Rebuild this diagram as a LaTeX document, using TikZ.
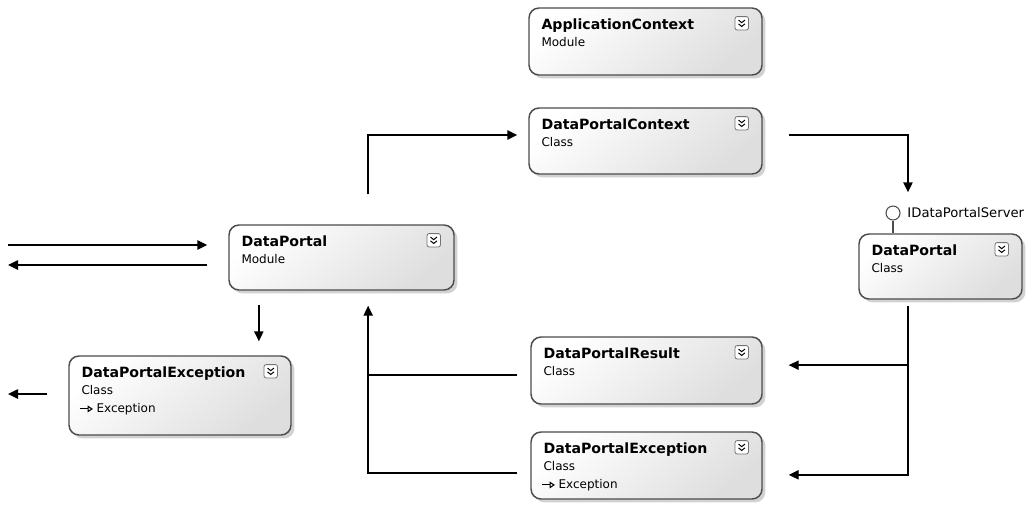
\documentclass[tikz,border=0pt]{standalone}
\usepackage{fontspec}
\setmainfont{DejaVu Sans}
\usetikzlibrary{shadows, arrows.meta, positioning}

\tikzstyle{arrow}    = [line width=1.1pt, -{Triangle[length=7.5pt,width=7pt]}]
\tikzstyle{wire}     = [line width=1.1pt]
\tikzstyle{classbox} = [draw=black!70, line width=1.1pt, rounded corners=7.5pt, top color=white, bottom color=black!13, shading angle=40, drop shadow={shadow xshift=2.5pt, shadow yshift=-2.5pt, fill=black!22, opacity=0.8}, inner sep=0pt]
\tikzstyle{boxtitle} = [anchor=base west, inner sep=0pt, font=\fontsize{10.6}{12}\selectfont\bfseries]
\tikzstyle{boxkind}  = [anchor=base west, inner sep=0pt, font=\fontsize{9}{10}\selectfont]
\tikzstyle{icon}     = [draw=black!55, fill=white, rounded corners=1.5pt, minimum size=10pt, inner sep=0pt, line width=0.6pt]

\newcommand{\expander}[1]{%
  \node[icon] (#1-icon) at ([shift={(-21,16)}]#1.north east) {};
  \draw[line width=0.75pt] ([shift={(-3.2,-3.2)}]#1-icon.center) -- ++(3.2,2.6) -- ++(3.2,-2.6);
  \draw[line width=0.75pt] ([shift={(-3.2,0.6)}]#1-icon.center) -- ++(3.2,2.6) -- ++(3.2,-2.6);
}

\begin{document}
\begin{tikzpicture}[x=0.75pt, y=-0.75pt]

    \useasboundingbox (0,0) rectangle (1032,521);

    % boxes
    \node[classbox, minimum width=174.75pt, minimum height=50.25pt] (appctx) at (645.5,41.5) {};
    \node[classbox, minimum width=174.75pt, minimum height=49.5pt]  (dpctx)  at (645.5,141) {};
    \node[classbox, minimum width=168.75pt, minimum height=48.75pt] (dpmod)  at (341.5,257.5) {};
    \node[classbox, minimum width=122.25pt, minimum height=48.75pt] (dpsrv)  at (940.5,266.5) {};
    \node[classbox, minimum width=173.25pt, minimum height=50.25pt] (dpres)  at (646.5,370.5) {};
    \node[classbox, minimum width=173.25pt, minimum height=50.25pt] (dpexc2) at (646.5,465.5) {};
    \node[classbox, minimum width=166.5pt,  minimum height=59.25pt] (dpexc1) at (180,395.5) {};

    \node[boxtitle] (appctx-t) at ([shift={(13,22)}]appctx.north west) {ApplicationContext};
    \node[boxkind]  (appctx-k) at ([shift={(13,39)}]appctx.north west) {Module};
    \node[boxtitle] (dpctx-t)  at ([shift={(13,22)}]dpctx.north west) {DataPortalContext};
    \node[boxkind]  (dpctx-k)  at ([shift={(13,39)}]dpctx.north west) {Class};
    \node[boxtitle] (dpmod-t)  at ([shift={(13,22)}]dpmod.north west) {DataPortal};
    \node[boxkind]  (dpmod-k)  at ([shift={(13,39)}]dpmod.north west) {Module};
    \node[boxtitle] (dpsrv-t)  at ([shift={(13,22)}]dpsrv.north west) {DataPortal};
    \node[boxkind]  (dpsrv-k)  at ([shift={(13,39)}]dpsrv.north west) {Class};
    \node[boxtitle] (dpres-t)  at ([shift={(13,22)}]dpres.north west) {DataPortalResult};
    \node[boxkind]  (dpres-k)  at ([shift={(13,39)}]dpres.north west) {Class};
    \node[boxtitle] (dpexc2-t) at ([shift={(13,22)}]dpexc2.north west) {DataPortalException};
    \node[boxkind]  (dpexc2-k) at ([shift={(13,39)}]dpexc2.north west) {Class};
    \node[boxkind]  (dpexc2-g) at ([shift={(28,57)}]dpexc2.north west) {Exception};
    \node[boxtitle] (dpexc1-t) at ([shift={(13,22)}]dpexc1.north west) {DataPortalException};
    \node[boxkind]  (dpexc1-k) at ([shift={(13,39)}]dpexc1.north west) {Class};
    \node[boxkind]  (dpexc1-g) at ([shift={(28,57)}]dpexc1.north west) {Exception};

    \draw[line width=0.8pt, -{Triangle[open,length=4pt,width=5pt]}] ([xshift=-12pt]dpexc1-g.west) -- ([xshift=-2.5pt]dpexc1-g.west);
    \draw[line width=0.8pt, -{Triangle[open,length=4pt,width=5pt]}] ([xshift=-12pt]dpexc2-g.west) -- ([xshift=-2.5pt]dpexc2-g.west);

    \expander{appctx}
    \expander{dpctx}
    \expander{dpmod}
    \expander{dpsrv}
    \expander{dpres}
    \expander{dpexc2}
    \expander{dpexc1}

    % interface lollipop
    \node[circle, draw=black!70, fill=white, line width=0.8pt, minimum size=10.5pt, inner sep=0pt] (iface) at (893,213) {};
    \node[anchor=west, inner sep=0pt, font=\fontsize{9.9}{11}\selectfont, right=5pt of iface] (iface-name) {IDataPortalServer};
    \draw[line width=0.8pt, black!70] (iface) -- (iface |- dpsrv.north);

    % connectors
    \coordinate (in1)  at (8,245);
    \coordinate (out1) at (8,265);
    \coordinate (out2) at (8,394);
    \coordinate (modup)   at ([xshift=20pt]dpmod.north);
    \coordinate (modin)   at ([xshift=20pt]dpmod.south);
    \coordinate (modout)  at ([xshift=-62pt]dpmod.south);
    \coordinate (ctxin)   at ([yshift=4.5pt]dpctx.west);
    \coordinate (ctxout)  at ([yshift=4.5pt]dpctx.east);
    \coordinate (srvin)   at ([xshift=-24.4pt]dpsrv.north);
    \coordinate (srvout)  at ([xshift=-24.4pt]dpsrv.south);
    \coordinate (resin)   at ([yshift=4pt]dpres.east);
    \coordinate (resout)  at ([yshift=-3.4pt]dpres.west);
    \coordinate (excin)   at ([yshift=-7pt]dpexc2.east);
    \coordinate (excout)  at ([yshift=-5.6pt]dpexc2.west);

    \draw[arrow, shorten >=15.75pt] (in1) -- (in1 -| dpmod.west);
    \draw[arrow, shorten <=15.75pt] (out1 -| dpmod.west) -- (out1);
    \draw[arrow, shorten <=15.75pt] (out2 -| dpexc1.west) -- (out2);
    \draw[arrow, shorten <=11pt, shorten >=10.5pt] (modout) -- (modout |- dpexc1.north);
    \draw[arrow, shorten <=22.5pt, shorten >=8.25pt] (modup) |- (ctxin);
    \draw[arrow, shorten <=19.5pt, shorten >=30.75pt] (ctxout) -| (srvin);
    \draw[arrow, shorten <=4.5pt, shorten >=19.5pt] (srvout) |- (excin);
    \draw[arrow, shorten >=19.5pt] (srvout |- resin) -- (resin);
    \draw[arrow, shorten <=9.75pt, shorten >=11.25pt] (resout) -| (modin);
    \draw[wire, shorten <=9.75pt] (excout) -| (modin |- resout);

\end{tikzpicture}
\end{document}
